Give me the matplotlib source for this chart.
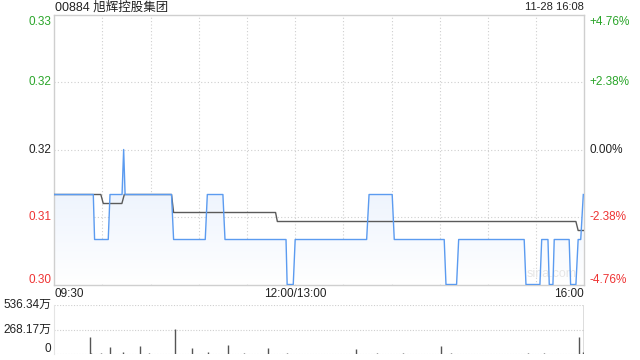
import numpy as np
import matplotlib
matplotlib.use("Agg")
import matplotlib.pyplot as plt
from matplotlib.colors import LinearSegmentedColormap

plt.rcParams["font.family"] = ["Liberation Sans", "Noto Sans CJK SC", "DejaVu Sans"]

GREEN = "#2aa52a"
RED = "#ee3333"
BLUE = "#5b9bf0"
AVG_C = "#5a5a5a"
GRID_C = "#cfcfcf"

# minutes since 09:30 (lunch break removed), 330 = 16:00
price_t = [0, 24.3, 25.1, 33.6, 34.7, 42.2, 43.2, 44.1, 73, 74.3, 94, 95.3, 105, 106.3,
           144.3, 145, 148.8, 150, 194.5, 196, 210.4, 211.7, 242.8, 243.9, 250.5, 251.8,
           292.6, 293.7, 302.4, 303.5, 307.4, 308.2, 310.5, 311.3, 320.6, 321.5, 324.8,
           326.2, 327.8, 329.4]
price_v = [0.31, 0.31, 0.305, 0.305, 0.31, 0.31, 0.315, 0.31, 0.31, 0.305, 0.305, 0.31, 0.31, 0.305,
           0.305, 0.30, 0.30, 0.305, 0.305, 0.31, 0.31, 0.305, 0.305, 0.30, 0.30, 0.305,
           0.305, 0.30, 0.30, 0.305, 0.305, 0.30, 0.30, 0.305, 0.305, 0.30, 0.30,
           0.305, 0.305, 0.31]

avg_t = [0, 29, 30.5, 42.1, 43.6, 73, 74.3, 137.8, 138.9, 324.8, 326.2, 329.4]
avg_v = [0.31, 0.31, 0.309, 0.309, 0.31, 0.31, 0.308, 0.308, 0.307, 0.307, 0.306, 0.306]

vol_t = [22, 23, 29, 35, 43, 53.5, 59, 75, 86, 96, 108, 118, 133, 145, 188, 201, 217,
         241, 247, 295, 305, 327, 329, 330]
vol_v = [188, 18, 10, 80, 25, 90, 12, 275, 69, 25, 101, 12, 65, 14, 58, 12, 18,
         90, 12, 18, 18, 191, 20, 536.34]

prev_close = 0.315
price_ticks = [0.30, 0.3075, 0.315, 0.3225, 0.33]
price_labels = ["0.30", "0.31", "0.32", "0.32", "0.33"]
pct_labels = ["-4.76%", "-2.38%", "0.00%", "+2.38%", "+4.76%"]
tick_colors = [RED, RED, "#222222", GREEN, GREEN]
vol_max = 536.34

fig = plt.figure(figsize=(6.4, 3.6), dpi=100)
ax = fig.add_axes([0.0848, 0.2097, 0.8281, 0.75])
ax2 = fig.add_axes([0.0848, 0.0158, 0.8281, 0.137])

ax.set_xlim(0, 330)
ax.set_ylim(0.30, 0.33)
for s in ax.spines.values():
    s.set_color(GRID_C)
    s.set_linewidth(1)
ax.set_xticks([])
ax.set_yticks([])
for x in range(30, 330, 30):
    ax.axvline(x, color=GRID_C, lw=0.8, ls=(0, (1, 2)), zorder=0)
for y in price_ticks[1:-1]:
    ax.axhline(y, color=GRID_C, lw=0.8, ls=(0, (1, 2)), zorder=0)

# gradient fill under the price line
cmap = LinearSegmentedColormap.from_list("fill", ["#ffffff", "#e6effd"])
grad = np.linspace(0, 1, 256).reshape(-1, 1)
img = ax.imshow(grad, extent=[0, 330, 0.30, 0.315], aspect="auto", cmap=cmap,
                origin="lower", zorder=1)
poly = ax.fill_between(price_t, price_v, 0.30, color="none", lw=0)
img.set_clip_path(poly.get_paths()[0], transform=ax.transData)
ax.set_xlim(0, 330)
ax.set_ylim(0.30, 0.33)

ax.plot(avg_t, avg_v, color=AVG_C, lw=1.0, zorder=3)
ax.plot(price_t, price_v, color=BLUE, lw=1.0, zorder=4)

ax.text(0.985, 0.015, "sina.com", transform=ax.transAxes, ha="right", va="bottom",
        fontsize=9, color="#e6e6e6", zorder=2)

ytr = ax.get_yaxis_transform()
for y, lab, pct, c in zip(price_ticks, price_labels, pct_labels, tick_colors):
    off = -0.0008 if y == price_ticks[-1] else (0.0005 if y == price_ticks[0] else 0)
    ax.text(-0.006, y + off, lab, transform=ytr, ha="right", va="center", fontsize=8.5, color=c)
    ax.text(1.009, y + off, pct, transform=ytr, ha="left", va="center", fontsize=8.5, color=c)

xtr = ax.get_xaxis_transform()
ax.text(0, -0.035, "09:30", transform=xtr, ha="left", va="center", fontsize=8.5, color="#222222")
ax.text(150, -0.035, "12:00/13:00", transform=xtr, ha="center", va="center", fontsize=8.5, color="#222222")
ax.text(330, -0.035, "16:00", transform=xtr, ha="right", va="center", fontsize=8.5, color="#222222")

fig.text(0.086, 1 - 7 / 360, "00884 旭辉控股集团", ha="left", va="center", fontsize=9, color="#222222")
fig.text(0.913, 1 - 7 / 360, "11-28 16:08", ha="right", va="center", fontsize=8, color="#222222")

# volume panel
ax2.set_xlim(0, 330)
ax2.set_ylim(0, vol_max)
for name, s in ax2.spines.items():
    s.set_visible(name == "left")
    s.set_color("#e4e4e4")
ax2.set_xticks([])
ax2.set_yticks([])
for y in [0, vol_max / 2, vol_max]:
    ax2.axhline(y, color=GRID_C, lw=0.8, ls=(0, (1, 1.5)), zorder=0)
ax2.vlines(vol_t, 0, vol_v, color="#555555", lw=1, zorder=2)

vtr = ax2.get_yaxis_transform()
ax2.text(-0.006, vol_max, "536.34万", transform=vtr, ha="right", va="center", fontsize=8.5, color="#222222")
ax2.text(-0.006, vol_max / 2, "268.17万", transform=vtr, ha="right", va="center", fontsize=8.5, color="#222222")
ax2.text(-0.006, 54, "0", transform=vtr, ha="right", va="center", fontsize=8.5, color="#222222")

fig.savefig("out.png", dpi=100)
